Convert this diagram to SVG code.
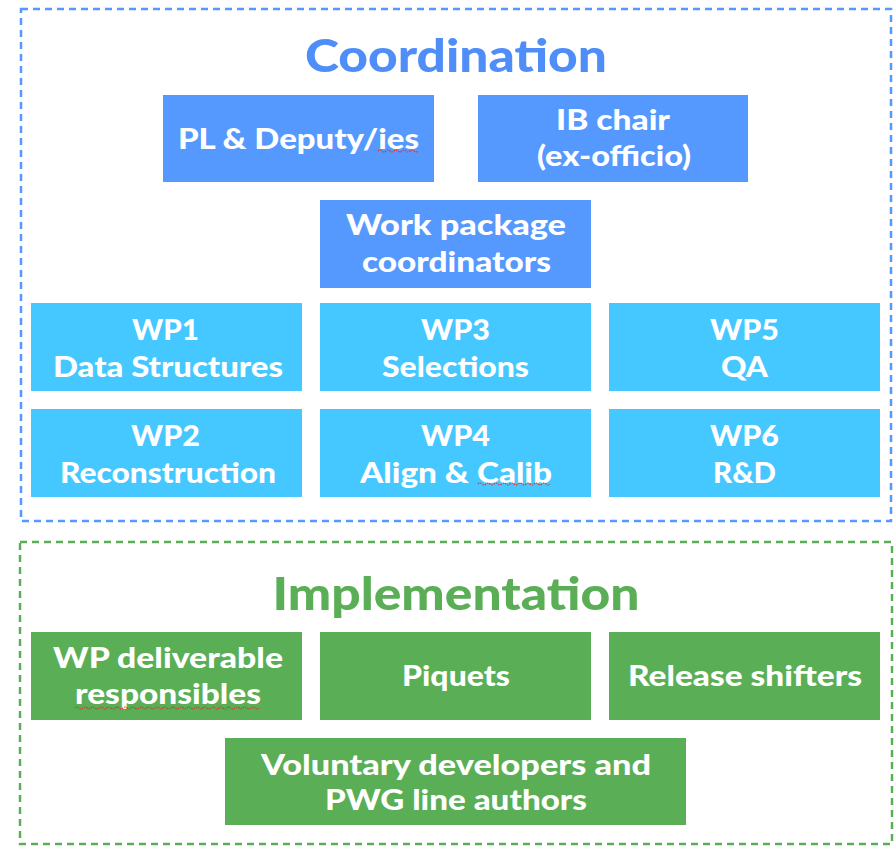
<svg xmlns="http://www.w3.org/2000/svg" width="896" height="846" viewBox="0 0 896 846">
<style>
.t{font-family:"Lato","Liberation Sans",sans-serif;font-weight:900;fill:#ffffff;font-size:28px;text-anchor:middle}
.h{font-family:"Lato","Liberation Sans",sans-serif;font-weight:900;font-size:46px;text-anchor:middle}
.b{fill:#5599ff}
.c{fill:#44c8ff}
.g{fill:#5aae55}
.sq{fill:none;stroke:#d9363e;stroke-width:1.2;stroke-dasharray:1.5 1}
</style>
<rect width="896" height="846" fill="#ffffff"/>
<g id="coordination-frame">
<rect x="21" y="9" width="870" height="512" fill="none" stroke="#5599ff" stroke-width="2.5" stroke-dasharray="7 5"/>
<text class="h" x="456" y="72" fill="#4f8ef8" textLength="302" lengthAdjust="spacingAndGlyphs">Coordination</text>
</g>
<g id="implementation-frame">
<rect x="20" y="542" width="872" height="302" fill="none" stroke="#5aae55" stroke-width="2.5" stroke-dasharray="7 5"/>
<text class="h" x="456" y="610" fill="#5aae55" textLength="367" lengthAdjust="spacingAndGlyphs">Implementation</text>
</g>
<g id="pl">
<rect class="b" x="163" y="95" width="271" height="87"/>
<text class="t" x="298.5" y="149" textLength="241" lengthAdjust="spacingAndGlyphs">PL &amp; Deputy/ies</text>
<path class="sq" d="M378 151 q2 -2 4 0 t4 0 t4 0 t4 0 t4 0 t4 0 t4 0 t4 0 t4 0 t4 0"/>
</g>
<g id="ib">
<rect class="b" x="478" y="95" width="270" height="87"/>
<text class="t" x="613" y="130" textLength="114" lengthAdjust="spacingAndGlyphs">IB chair</text>
<text class="t" x="614" y="166" textLength="154" lengthAdjust="spacingAndGlyphs">(ex-officio)</text>
</g>
<g id="wpc">
<rect class="b" x="320" y="200" width="271" height="88"/>
<text class="t" x="456" y="235" textLength="220" lengthAdjust="spacingAndGlyphs">Work package</text>
<text class="t" x="456.5" y="272" textLength="189" lengthAdjust="spacingAndGlyphs">coordinators</text>
</g>
<g id="wp1">
<rect class="c" x="31" y="303" width="271" height="88"/>
<text class="t" x="165.5" y="340" textLength="67" lengthAdjust="spacingAndGlyphs">WP1</text>
<text class="t" x="168" y="377" textLength="230" lengthAdjust="spacingAndGlyphs">Data Structures</text>
</g>
<g id="wp3">
<rect class="c" x="320" y="303" width="271" height="88"/>
<text class="t" x="455.5" y="340" textLength="69" lengthAdjust="spacingAndGlyphs">WP3</text>
<text class="t" x="455.5" y="377" textLength="147" lengthAdjust="spacingAndGlyphs">Selections</text>
</g>
<g id="wp5">
<rect class="c" x="609" y="303" width="271" height="88"/>
<text class="t" x="744.5" y="340" textLength="69" lengthAdjust="spacingAndGlyphs">WP5</text>
<text class="t" x="744.5" y="377" textLength="47" lengthAdjust="spacingAndGlyphs">QA</text>
</g>
<g id="wp2">
<rect class="c" x="31" y="409" width="271" height="88"/>
<text class="t" x="165.5" y="446" textLength="69" lengthAdjust="spacingAndGlyphs">WP2</text>
<text class="t" x="168" y="483" textLength="216" lengthAdjust="spacingAndGlyphs">Reconstruction</text>
</g>
<g id="wp4">
<rect class="c" x="320" y="409" width="271" height="88"/>
<text class="t" x="455.5" y="446" textLength="69" lengthAdjust="spacingAndGlyphs">WP4</text>
<text class="t" x="456" y="483" textLength="192" lengthAdjust="spacingAndGlyphs">Align &amp; Calib</text>
<path class="sq" d="M478 484 q2 -2 4 0 t4 0 t4 0 t4 0 t4 0 t4 0 t4 0 t4 0 t4 0 t4 0 t4 0 t4 0 t4 0 t4 0 t4 0 t4 0 t4 0 t4 0"/>
</g>
<g id="wp6">
<rect class="c" x="609" y="409" width="271" height="88"/>
<text class="t" x="744.5" y="446" textLength="69" lengthAdjust="spacingAndGlyphs">WP6</text>
<text class="t" x="744.5" y="483" textLength="63" lengthAdjust="spacingAndGlyphs">R&amp;D</text>
</g>
<g id="deliv">
<rect class="g" x="31" y="632" width="271" height="88"/>
<text class="t" x="168" y="668" textLength="230" lengthAdjust="spacingAndGlyphs">WP deliverable</text>
<text class="t" x="168" y="704" textLength="186" lengthAdjust="spacingAndGlyphs">responsibles</text>
<path class="sq" d="M75 708 q2 -2 4 0 t4 0 t4 0 t4 0 t4 0 t4 0 t4 0 t4 0 t4 0 t4 0 t4 0 t4 0 t4 0 t4 0 t4 0 t4 0 t4 0 t4 0 t4 0 t4 0 t4 0 t4 0 t4 0 t4 0 t4 0 t4 0 t4 0 t4 0 t4 0 t4 0 t4 0 t4 0 t4 0 t4 0 t4 0 t4 0 t4 0 t4 0 t4 0 t4 0 t4 0 t4 0 t4 0 t4 0 t4 0 t4 0"/>
</g>
<g id="piquets">
<rect class="g" x="320" y="632" width="271" height="88"/>
<text class="t" x="456" y="686" textLength="108" lengthAdjust="spacingAndGlyphs">Piquets</text>
</g>
<g id="release">
<rect class="g" x="609" y="632" width="271" height="88"/>
<text class="t" x="745" y="686" textLength="234" lengthAdjust="spacingAndGlyphs">Release shifters</text>
</g>
<g id="voluntary">
<rect class="g" x="225" y="738" width="461" height="87"/>
<text class="t" x="456" y="775" textLength="390" lengthAdjust="spacingAndGlyphs">Voluntary developers and</text>
<text class="t" x="456" y="810" textLength="262" lengthAdjust="spacingAndGlyphs">PWG line authors</text>
</g>
<g id="connectors"></g>
</svg>
